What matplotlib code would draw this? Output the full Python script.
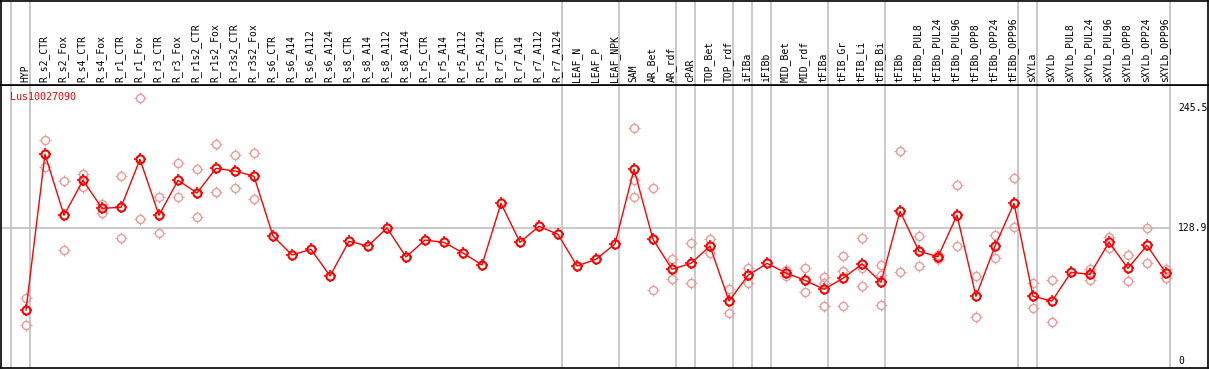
import matplotlib
matplotlib.use('Agg')
import matplotlib.pyplot as plt
from matplotlib.path import Path
import numpy as np

samples = ['HYP', 'R_s2_CTR', 'R_s2_Fox', 'R_s4_CTR', 'R_s4_Fox', 'R_r1_CTR', 'R_r1_Fox',
           'R_r3_CTR', 'R_r3_Fox', 'R_r1s2_CTR', 'R_r1s2_Fox', 'R_r3s2_CTR', 'R_r3s2_Fox',
           'R_s6_CTR', 'R_s6_A14', 'R_s6_A112', 'R_s6_A124', 'R_s8_CTR', 'R_s8_A14',
           'R_s8_A112', 'R_s8_A124', 'R_r5_CTR', 'R_r5_A14', 'R_r5_A112', 'R_r5_A124',
           'R_r7_CTR', 'R_r7_A14', 'R_r7_A112', 'R_r7_A124', 'LEAF_N', 'LEAF_P', 'LEAF_NPK',
           'SAM', 'AR_Bet', 'AR_rdf', 'cPAR', 'TOP_Bet', 'TOP_rdf', 'iFIBa', 'iFIBb',
           'MID_Bet', 'MID_rdf', 'tFIBa', 'tFIB_Gr', 'tFIB_Li', 'tFIB_Bi', 'tFIBb',
           'tFIBb_PUL8', 'tFIBb_PUL24', 'tFIBb_PUL96', 'tFIBb_OPP8', 'tFIBb_OPP24',
           'tFIBb_OPP96', 'sXYLa', 'sXYLb', 'sXYLb_PUL8', 'sXYLb_PUL24', 'sXYLb_PUL96',
           'sXYLb_OPP8', 'sXYLb_OPP24', 'sXYLb_OPP96']

# number of samples in each group (gray separators)
group_sizes = [1, 28, 3, 3, 1, 2, 1, 1, 3, 3, 7, 1, 7]

means = [49.4, 200.3, 141.2, 175.1, 148.0, 148.9, 195.4, 141.2, 175.1, 162.8, 186.7,
         184.1, 179.0, 121.1, 102.7, 108.2, 82.4, 116.0, 111.4, 128.9, 100.8, 117.2,
         115.0, 104.7, 93.0, 152.8, 115.0, 130.5, 122.7, 92.1, 98.5, 113.4, 185.8,
         117.9, 88.9, 94.6, 111.4, 58.1, 83.0, 94.6, 85.3, 78.2, 69.5, 80.1, 94.0,
         76.3, 145.1, 106.3, 101.1, 141.2, 62.7, 111.4, 152.8, 62.7, 58.1, 85.9, 84.0,
         115.0, 89.8, 112.1, 85.0]

reps = [[60.8, 34.6], [213.9, 188.3], [174.1, 107.3], [181.2, 168.3], [152.1, 143.7],
        [179.0, 118.9], [254.5, 137.3], [158.6, 123.7], [191.6, 158.6], [185.8, 139.2],
        [210.0, 163.5], [199.3, 168.0], [201.3, 156.7],
        [], [], [], [], [], [], [], [], [], [], [], [], [], [], [], [],
        [], [], [],
        [225.5, 175.4, 158.6], [167.3, 68.5], [98.5, 79.2], [114.0, 75.3], [118.2, 104.9],
        [69.5, 46.2], [90.1, 75.9], [], [88.2, 82.7], [90.1, 66.6], [81.4, 75.3, 53.0],
        [101.7, 86.9, 53.0], [118.9, 90.4, 72.4], [93.0, 83.3, 54.0], [203.2, 85.9],
        [121.1, 91.7], [103.0, 98.5], [170.2, 111.1], [82.4, 42.3], [122.1, 99.5],
        [177.0, 129.6], [75.6, 51.1], [78.2, 37.8], [], [89.1, 78.5], [120.5, 109.8],
        [102.4, 77.2], [128.6, 94.6], [88.9, 80.4]]

gene = 'Lus10027090'
ytick_vals = [245.5, 128.9, 0]

# four little ticks drawn around each circle
ticks = Path([[0, 1], [0, 1.4], [0, -1], [0, -1.4], [1, 0], [1.4, 0], [-1, 0], [-1.4, 0]],
             [Path.MOVETO, Path.LINETO] * 4)


def gear(ax, xs, ys, color, lw, z):
    ax.plot(xs, ys, linestyle='none', marker='o', markersize=5.8, mfc='none',
            mec=color, mew=lw, zorder=z)
    ax.plot(xs, ys, linestyle='none', marker=ticks, markersize=8.8, mfc='none',
            mec=color, mew=lw * 0.8, zorder=z)


W, H = 1209, 370
fig = plt.figure(figsize=(W / 100, H / 100), dpi=100)
plt.rcParams['font.family'] = 'DejaVu Sans Mono'

# pixel layout
px_left, px_right = 1, 1208
hdr_top, hdr_bot, plot_bot = 1, 85, 368
ax = fig.add_axes([px_left / W, (H - plot_bot) / H, (px_right - px_left) / W, (plot_bot - hdr_bot) / H])
hx = fig.add_axes([px_left / W, (H - hdr_bot) / H, (px_right - px_left) / W, (hdr_bot - hdr_top) / H])

# sample i at pixel 26 + 19*i
x0, dx = 26, 19
xlim = ((px_left - x0) / dx, (px_right - x0) / dx)
y0, ky = 361, 1.032
ylim = ((y0 - plot_bot) / ky, (y0 - hdr_bot) / ky)
x_end = (1170 - x0) / dx

for a in (ax, hx):
    a.set_xlim(*xlim)
    a.set_xticks([])
    a.set_yticks([])
    for s in a.spines.values():
        s.set_color('black')
        s.set_linewidth(1.2)
ax.set_ylim(*ylim)
hx.set_ylim(0, 1)

# group separators
bounds = np.concatenate([[0], np.cumsum(group_sizes)]) - 15 / 19
for b in bounds:
    for a in (ax, hx):
        a.axvline(b, color='#c0c0c0', lw=1.2, zorder=1)

ax.hlines(ytick_vals[1], xlim[0], x_end, color='#c0c0c0', lw=1.2, zorder=1)

x = np.arange(len(samples))
for i, r in enumerate(reps):
    if r:
        gear(ax, [i] * len(r), r, '#f09898', 1.0, 2)

ax.plot(x, means, color='red', lw=1.0, zorder=3)
gear(ax, x, means, 'red', 1.5, 4)

for v in ytick_vals:
    ax.text((1178 - x0) / dx, v, str(v) if v else '0', fontsize=7, va='center', ha='left')

ax.text(9 / (px_right - px_left), 1 - 12 / (plot_bot - hdr_bot), gene, color='red',
        fontsize=7.2, va='center', ha='left', transform=ax.transAxes)

for i, s in enumerate(samples):
    hx.text(i - 0.05, 0.03, s, rotation=90, ha='center', va='bottom', fontsize=7)

fig.savefig('out.png', dpi=100)
